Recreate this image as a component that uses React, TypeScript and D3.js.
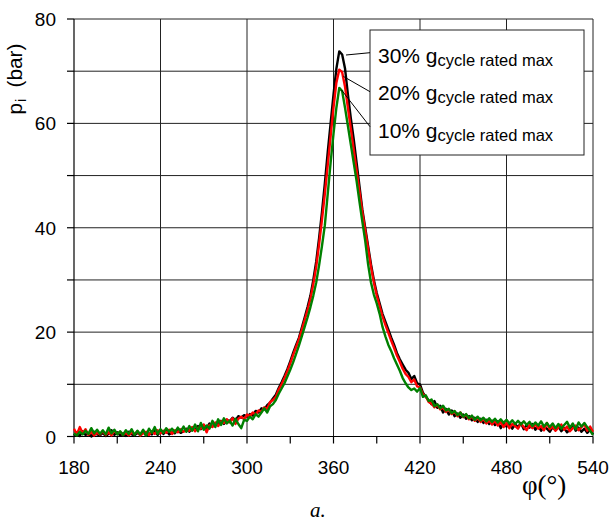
import React from "react";
import * as d3 from "d3";

// Crank angle grid (deg), 2° sampling from 180 to 540
const phi: number[] = d3.range(180, 541, 2);

const seriesNames = ["30%", "20%", "10%"];
const seriesColors = ["#000000", "#ff0000", "#008000"];

// 30% g_cycle rated max (bar)
const p30: number[] = [
  0.2, 0.8, 0.1, 1.0, 0.3, 0.6, 0.0, 0.9, 0.4, 0.2,
  0.7, 0.1, 0.5, 1.2, 0.3, 0.8, 0.2, 0.6, 0.1, 0.9,
  0.4, 0.2, 0.7, 0.3, 1.0, 0.2, 0.6, 0.4, 1.1, 0.3,
  0.9, 0.5, 1.2, 0.4, 0.8, 0.6, 1.3, 0.7, 1.0, 1.5,
  0.9, 1.6, 1.2, 2.0, 1.4, 2.2, 1.6, 2.5, 1.9, 2.6,
  2.3, 3.0, 2.4, 3.2, 2.9, 3.6, 3.1, 3.9, 3.6, 4.1,
  3.8, 4.3, 4.0, 4.9, 4.6, 5.4, 5.2, 6.0, 6.5, 7.3,
  8.0, 9.3, 10.4, 11.6, 12.9, 14.4, 16.0, 17.5, 18.9, 20.8,
  22.8, 24.8, 27.0, 30.0, 33.5, 38.0, 43.0, 48.5, 54.5, 60.0,
  65.5, 70.5, 73.8, 73.2, 70.5, 65.5, 61.0, 57.0, 52.5, 48.0,
  43.5, 40.0, 36.5, 33.0, 30.0, 27.5, 25.5, 23.5, 22.0, 20.5,
  19.0, 17.6, 16.0, 14.8, 13.8, 12.8, 12.2, 11.0, 11.6, 10.2,
  10.0, 8.4, 7.6, 6.9, 6.2, 6.8, 5.5, 5.9, 4.6, 5.3,
  4.2, 5.0, 3.9, 4.4, 3.6, 4.2, 3.4, 3.9, 3.1, 3.6,
  2.8, 3.4, 2.6, 3.2, 2.4, 3.0, 2.2, 2.9, 1.6, 2.7,
  1.9, 2.5, 1.5, 2.3, 1.8, 2.6, 1.4, 2.2, 1.7, 2.4,
  1.3, 2.1, 1.1, 1.9, 1.5, 0.9, 1.8, 1.2, 2.0, 1.0,
  1.6, 0.8, 1.4, 2.3, 1.1, 1.7, 0.9, 1.5, 0.7, 1.3, 0.4,
];

// 20% g_cycle rated max (bar)
const p20: number[] = [
  1.5, 0.4, 1.8, 0.6, 1.4, 0.3, 0.9, 0.2, 0.7, 0.4,
  1.0, 0.3, 0.8, 0.2, 1.1, 0.5, 0.9, 0.3, 0.7, 0.2,
  0.8, 0.4, 1.0, 0.2, 0.6, 0.9, 0.3, 1.0, 0.5, 1.2,
  0.6, 1.1, 0.7, 1.3, 0.5, 1.2, 0.8, 1.4, 0.9, 1.3,
  1.1, 1.8, 1.0, 1.7, 1.5, 2.3, 0.8, 2.2, 1.8, 2.7,
  2.0, 2.9, 2.6, 3.3, 2.7, 3.5, 2.4, 3.4, 3.8, 3.3,
  4.2, 3.9, 4.6, 4.2, 5.0, 4.7, 5.6, 5.3, 6.6, 7.0,
  7.6, 9.0, 10.0, 11.2, 12.5, 14.0, 15.6, 17.1, 18.6, 20.4,
  22.3, 24.2, 26.4, 29.2, 32.5, 36.8, 41.5, 46.5, 52.0, 57.5,
  63.0, 67.8, 70.3, 69.8, 67.0, 63.0, 59.0, 55.0, 51.0, 47.0,
  43.0, 39.5, 36.0, 32.5, 29.5, 27.0, 25.0, 23.0, 21.4, 19.9,
  18.4, 17.0, 15.5, 14.3, 13.0, 12.0, 11.4, 10.4, 10.9, 9.6,
  9.4, 8.1, 7.7, 6.6, 6.3, 5.6, 6.1, 5.2, 5.6, 4.7,
  5.2, 4.3, 4.8, 3.9, 4.6, 3.7, 4.2, 3.3, 3.9, 3.0,
  3.6, 2.8, 3.4, 2.5, 3.1, 2.3, 3.0, 2.1, 2.8, 1.8,
  2.6, 1.6, 2.4, 2.0, 1.5, 2.5, 1.8, 1.2, 2.2, 1.6,
  2.4, 1.5, 2.0, 1.2, 2.6, 1.4, 1.9, 1.1, 1.7, 2.3,
  1.3, 1.9, 1.0, 1.6, 2.1, 1.2, 1.8, 2.4, 1.1, 1.9, 0.9,
];

// 10% g_cycle rated max (bar)
const p10: number[] = [
  0.6, 0.2, 0.9, 0.4, 1.1, 0.5, 1.6, 0.6, 1.3, 0.5,
  1.2, 0.4, 1.7, 0.6, 1.3, 0.4, 1.0, 0.3, 1.2, 0.5,
  1.4, 0.3, 1.1, 0.4, 1.3, 0.2, 1.5, 0.7, 1.8, 0.5,
  1.4, 0.7, 1.6, 0.9, 1.5, 0.8, 1.7, 1.0, 1.9, 0.9,
  2.0, 1.1, 2.3, 1.0, 2.6, 1.3, 2.1, 1.5, 3.0, 1.8,
  3.3, 2.2, 3.5, 2.5, 3.0, 2.1, 3.4, 2.4, 1.6, 3.2,
  3.0, 3.8, 3.3, 4.3, 3.8, 4.6, 5.4, 4.6, 5.8, 6.2,
  7.0, 8.2, 9.2, 10.2, 11.5, 12.8, 14.2, 15.8, 17.4, 19.2,
  21.0, 22.8, 24.8, 27.0, 29.5, 32.8, 36.5, 40.5, 46.5, 52.5,
  58.0, 63.0, 66.8, 66.2, 63.0, 59.5, 56.0, 52.5, 49.0, 45.0,
  41.2, 37.5, 33.0, 29.5, 27.2, 25.5, 23.5, 21.0, 19.2, 17.6,
  16.4, 15.0, 13.8, 12.6, 11.2, 10.2, 9.4, 8.9, 9.2, 8.6,
  9.3, 7.6, 7.9, 6.8, 7.1, 5.8, 6.2, 5.4, 5.9, 5.0,
  5.3, 4.5, 4.9, 4.1, 4.6, 3.8, 4.3, 3.5, 4.0, 3.2,
  3.8, 3.1, 3.6, 2.9, 3.5, 2.8, 3.4, 2.7, 3.3, 2.6,
  3.2, 2.5, 3.1, 2.4, 3.0, 2.3, 2.9, 2.2, 2.8, 2.0,
  2.7, 2.1, 2.9, 1.9, 2.6, 1.8, 2.5, 1.6, 2.4, 1.5,
  2.2, 2.8, 1.7, 2.5, 1.4, 2.7, 1.9, 2.6, 1.8, 1.1, 0.3,
];

const xTickLabels = [180, 240, 300, 360, 420, 480, 540];
const yTickLabels = [0, 20, 40, 60, 80];

const W = 613;
const H = 530;
const L = 74, R = 593, T = 19, B = 436.5;

export default function App() {
  const x = d3.scaleLinear().domain([180, 540]).range([L, R]);
  const y = d3.scaleLinear().domain([0, 80]).range([B, T]);
  const line = d3
    .line<[number, number]>()
    .x((d) => x(d[0]))
    .y((d) => y(d[1]));

  const series = [p30, p20, p10];
  const xMinor = d3.range(180, 541, 30);
  const yMinor = d3.range(0, 81, 10);
  const gridX = d3.range(240, 541, 60);
  const gridY = d3.range(10, 81, 10);

  const legendY = [63, 100, 138];
  const leaderFrom: [number, number][] = [
    [346, 55],
    [343.5, 76.5],
    [341.5, 90],
  ];
  const leaderTo = [52.7, 91.7, 126.7];

  const font = "'Liberation Sans', Arial, Helvetica, sans-serif";
  const serif = "'Liberation Serif', 'Times New Roman', serif";

  return (
    <svg
      width={W}
      height={H}
      style={{ position: "absolute", left: 0, top: 0, background: "#fff" }}
    >
      <rect x={0} y={0} width={W} height={H} fill="#fff" />
      {/* grid */}
      {gridX.map((v) => (
        <line key={"gx" + v} x1={x(v)} x2={x(v)} y1={T} y2={B} stroke="#222" strokeWidth={1} />
      ))}
      {gridY.map((v) => (
        <line key={"gy" + v} x1={L} x2={R} y1={y(v)} y2={y(v)} stroke="#222" strokeWidth={1} />
      ))}
      {/* axes */}
      <line x1={L} x2={L} y1={T} y2={B} stroke="#000" strokeWidth={1.2} />
      <line x1={L} x2={R} y1={B} y2={B} stroke="#000" strokeWidth={1.2} />
      {xMinor.map((v) => (
        <line key={"tx" + v} x1={x(v)} x2={x(v)} y1={B} y2={B + 7} stroke="#000" strokeWidth={1.2} />
      ))}
      {yMinor.map((v) => (
        <line key={"ty" + v} x1={L - 7} x2={L} y1={y(v)} y2={y(v)} stroke="#000" strokeWidth={1.2} />
      ))}
      {/* tick labels */}
      {xTickLabels.map((v) => (
        <text key={"lx" + v} x={x(v)} y={474} textAnchor="middle" fontFamily={font} fontSize={19} fill="#000">
          {v}
        </text>
      ))}
      {yTickLabels.map((v) => (
        <text key={"ly" + v} x={56} y={y(v) + 7} textAnchor="end" fontFamily={font} fontSize={19} fill="#000">
          {v}
        </text>
      ))}
      {/* data */}
      {series.map((s, i) => (
        <path
          key={"s" + i}
          d={line(phi.map((p, j) => [p, s[j]] as [number, number])) || ""}
          fill="none"
          stroke={seriesColors[i]}
          strokeWidth={2.4}
          strokeLinejoin="round"
        />
      ))}
      {/* legend */}
      <rect x={370} y={30} width={214} height={125} fill="#fff" stroke="#222" strokeWidth={1} />
      {seriesNames.map((n, i) => (
        <g key={"lg" + i}>
          <line
            x1={leaderFrom[i][0]}
            y1={leaderFrom[i][1]}
            x2={370}
            y2={leaderTo[i]}
            stroke="#000"
            strokeWidth={1}
          />
          <text x={378} y={legendY[i]} fontFamily={font} fontSize={21} fill="#000">
            {n + " g"}
            <tspan fontSize={16.5} dy={3}>
              cycle rated max
            </tspan>
          </text>
        </g>
      ))}
      {/* axis titles */}
      <text transform="translate(21.5,114.5) rotate(-90)" fontFamily={font} fontSize={20.5} fill="#000">
        p
      </text>
      <text transform="translate(25.5,102) rotate(-90)" fontFamily={font} fontSize={14} fill="#000">
        i
      </text>
      <text
        transform="translate(21.5,87.5) rotate(-90)"
        fontFamily={font}
        fontSize={20.5}
        fill="#000"
        textLength={44}
        lengthAdjust="spacingAndGlyphs"
      >
        (bar)
      </text>
      <text x={522} y={494} fontFamily={serif} fontSize={27} fill="#000">
        φ(°)
      </text>
      <text x={310} y={517} fontFamily={serif} fontStyle="italic" fontSize={21} fill="#000">
        a.
      </text>
    </svg>
  );
}
